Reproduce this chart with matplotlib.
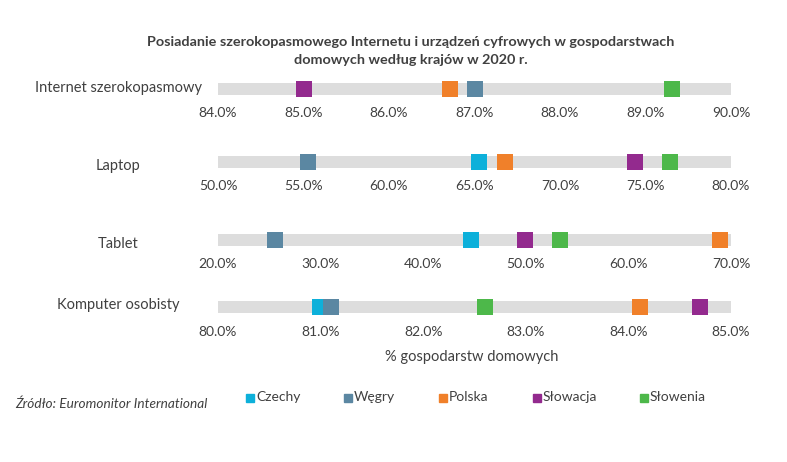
import matplotlib
matplotlib.use("Agg")
import matplotlib.pyplot as plt
from matplotlib.ticker import FuncFormatter

plt.rcParams['font.family'] = ['Lato', 'DejaVu Sans']

categories = ["Internet szerokopasmowy", "Laptop", "Tablet", "Komputer osobisty"]
countries = ["Czechy", "Węgry", "Polska", "Słowacja", "Słowenia"]
colors = ["#0DB0DA", "#5B87A2", "#F0802A", "#932A8E", "#4DB84A"]

# values per category, order: Czechy, Węgry, Polska, Słowacja, Słowenia
internet = [87.0, 87.01, 86.71, 85.0, 89.31]
laptop = [65.24, 55.29, 66.77, 74.39, 76.43]
tablet = [44.69, 25.6, 68.89, 49.89, 53.36]
komputer = [80.99, 81.10, 84.11, 84.70, 82.60]
series = [internet, laptop, tablet, komputer]

axis_min = [84.0, 50.0, 20.0, 80.0]
axis_max = [90.0, 80.0, 70.0, 85.0]
axis_step = [1.0, 5.0, 10.0, 1.0]

W, H = 787, 462
fig = plt.figure(figsize=(W / 100, H / 100), dpi=100)
fig.patch.set_facecolor("white")

bar_centers = [88.5, 162, 240, 307]
label_y = [88, 166, 244, 305]
bar_h = 12
x0, x1 = 218, 731

for i, cat in enumerate(categories):
    yc = bar_centers[i]
    ax = fig.add_axes([x0 / W, 1 - (yc + bar_h / 2) / H, (x1 - x0) / W, bar_h / H])
    ax.set_facecolor("#DDDDDD")
    ax.set_xlim(axis_min[i], axis_max[i])
    ax.set_ylim(0, 1)
    for s in ax.spines.values():
        s.set_visible(False)
    ticks = []
    t = axis_min[i]
    while t <= axis_max[i] + 1e-9:
        ticks.append(t)
        t += axis_step[i]
    ax.set_xticks(ticks)
    ax.xaxis.set_major_formatter(FuncFormatter(lambda v, p: f"{v:.1f}%"))
    ax.tick_params(axis="x", length=0, pad=9, labelsize=10, labelcolor="#404040")
    ax.set_yticks([])
    for j, c in enumerate(countries):
        ax.scatter([series[i][j]], [0.5], marker="s", s=135, color=colors[j],
                   clip_on=False, zorder=3 + j, linewidths=0)
    fig.text(118 / W, 1 - label_y[i] / H, cat, ha="center", va="center",
             fontsize=10.5, color="#404040")

fig.text(411 / W, 1 - 42 / H,
         "Posiadanie szerokopasmowego Internetu i urządzeń cyfrowych w gospodarstwach",
         ha="center", va="center", fontsize=10.4, fontweight="bold", color="#404040")
fig.text(411 / W, 1 - 60 / H, "domowych według krajów w 2020 r.",
         ha="center", va="center", fontsize=10.4, fontweight="bold", color="#404040")

fig.text(472 / W, 1 - 357 / H, "% gospodarstw domowych", ha="center", va="center",
         fontsize=10.5, color="#404040")

fig.text(15 / W, 1 - 404 / H, "Źródło: Euromonitor International", ha="left",
         va="center", fontsize=9.8, style="italic", color="#404040")

leg_x = [256, 354, 449, 543, 650]
for j, c in enumerate(countries):
    fig.patches.append(plt.Rectangle(((leg_x[j] - 10) / W, 1 - 401.5 / H), 8 / W, 8 / H,
                                     transform=fig.transFigure, color=colors[j],
                                     figure=fig))
    fig.text(leg_x[j] / W, 1 - 397 / H, c, ha="left", va="center", fontsize=10,
             color="#404040")

fig.savefig("out.png", dpi=100)
